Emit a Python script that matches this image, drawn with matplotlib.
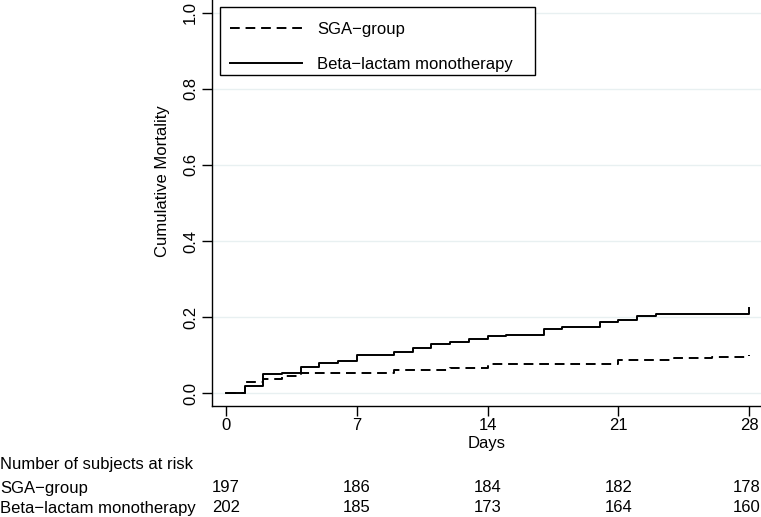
import matplotlib
matplotlib.use("Agg")
import matplotlib.pyplot as plt
import matplotlib.transforms as mtransforms
from matplotlib.patches import Rectangle

plt.rcParams['font.family'] = ['Liberation Sans', 'DejaVu Sans']

# Kaplan-Meier style cumulative mortality
beta_days = [0, 1, 2, 3, 4, 5, 6, 7, 9, 10, 11, 12, 13, 14, 15, 17, 18, 20, 21, 22, 23, 28]
beta_vals = [0, 0.018, 0.050, 0.054, 0.068, 0.078, 0.084, 0.099, 0.107, 0.118, 0.128,
             0.134, 0.142, 0.149, 0.154, 0.168, 0.173, 0.188, 0.193, 0.203, 0.208, 0.223]

sga_days = [0, 1, 2, 3, 4, 9, 12, 14, 21, 24, 26, 28]
sga_vals = [0, 0.030, 0.036, 0.046, 0.053, 0.060, 0.065, 0.076, 0.086, 0.091, 0.096, 0.099]

xticks = [0, 7, 14, 21, 28]
yticks = [0.0, 0.2, 0.4, 0.6, 0.8, 1.0]

risk_groups = ['SGA\u2212group', 'Beta\u2212lactam monotherapy']
risk_counts = [[197, 186, 184, 182, 178],
               [202, 185, 173, 164, 160]]

fs = 12
W, H = 761, 517
AX_W, AX_H = 549, 406

fig = plt.figure(figsize=(W/100, H/100), dpi=100)
ax = fig.add_axes([212/W, 111/H, AX_W/W, AX_H/H])

ax.step(sga_days, sga_vals, where='post', color='black', lw=1.4,
        linestyle=(0, (5, 3)), label='SGA\u2212group')
ax.step(beta_days, beta_vals, where='post', color='black', lw=1.4,
        label='Beta\u2212lactam monotherapy')

ax.set_xlim(-0.75, 28.64)
ax.set_ylim(-0.034, 1.034)
ax.set_xticks(xticks)
ax.set_yticks(yticks)
ax.set_yticklabels(['%.1f' % v for v in yticks], rotation=90, va='center')
ax.tick_params(axis='both', labelsize=fs, length=7, width=1, colors='black')
ax.tick_params(axis='y', pad=3)
ax.tick_params(axis='x', pad=2)

for v in yticks:
    ax.axhline(v, color='#e8f0f1', lw=1, zorder=0)

for s in ['top', 'right']:
    ax.spines[s].set_visible(False)
for s in ['left', 'bottom']:
    ax.spines[s].set_linewidth(1)

ax.set_xlabel('Days', fontsize=fs, labelpad=2)
ax.set_ylabel('Cumulative Mortality', fontsize=fs)
ax.yaxis.set_label_coords(-0.077, 0.554)

# legend box drawn by hand (text sits low in the frame like the original)
ax.add_patch(Rectangle((8/AX_W, (AX_H - 75)/AX_H), 315/AX_W, 68/AX_H,
                       transform=ax.transAxes, facecolor='white', edgecolor='black',
                       lw=1, zorder=4))
leg = ax.legend(loc='upper left', bbox_to_anchor=(8/AX_W, (AX_H - 12)/AX_H, 315/AX_W, 0),
                mode='expand', borderaxespad=0, fontsize=fs, frameon=False,
                handlelength=4.3, handletextpad=0.95, borderpad=0.6, labelspacing=1.18)
leg.set_zorder(5)

# number at risk table
trans = mtransforms.blended_transform_factory(ax.transData, fig.transFigure)
fig.text(0.0, 1 - 465/H, 'Number of subjects at risk', fontsize=fs, va='center', ha='left')
row_y = [488, 508]
for name, counts, yy in zip(risk_groups, risk_counts, row_y):
    fig.text(0.0, 1 - yy/H, name, fontsize=fs, va='center', ha='left')
    for d, c in zip(xticks[:-1], counts[:-1]):
        ax.text(d, 1 - yy/H, str(c), transform=trans, fontsize=fs,
                va='center', ha='center', clip_on=False)
    # last column sits against the right edge
    fig.text(760/W, 1 - yy/H, str(counts[-1]), fontsize=fs, va='center', ha='right')

fig.savefig('out.png', dpi=100)
